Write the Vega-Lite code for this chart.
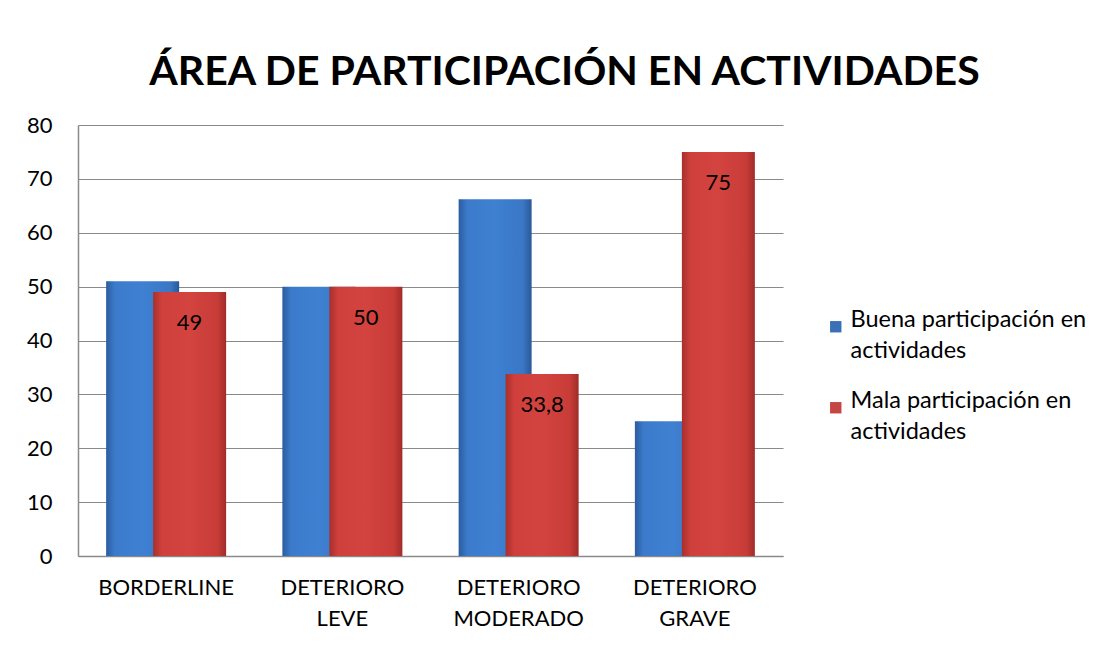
{
  "$schema": "https://vega.github.io/schema/vega-lite/v6.json",
  "width": 705,
  "height": 431,
  "autosize": "none",
  "padding": {"left": 78, "top": 125, "right": 325, "bottom": 92},
  "background": "white",
  "title": {
    "text": "ÁREA DE PARTICIPACIÓN EN ACTIVIDADES",
    "font": "Lato",
    "fontSize": 41,
    "fontWeight": "bold",
    "color": "#000000",
    "anchor": "middle",
    "dx": 134,
    "baseline": "alphabetic",
    "offset": -12
  },
  "config": {
    "locale": {"number": {"decimal": ",", "thousands": ".", "grouping": [3], "currency": ["", " €"]}},
    "font": "Lato",
    "view": {"stroke": null},
    "style": {"guide-label": {"lineHeight": 31}}
  },
  "data": {
    "values": [
      {"categoria": "BORDERLINE", "serie": "Buena participación en actividades", "valor": 51},
      {"categoria": "BORDERLINE", "serie": "Mala participación en actividades", "valor": 49},
      {"categoria": "DETERIORO LEVE", "serie": "Buena participación en actividades", "valor": 50},
      {"categoria": "DETERIORO LEVE", "serie": "Mala participación en actividades", "valor": 50},
      {"categoria": "DETERIORO MODERADO", "serie": "Buena participación en actividades", "valor": 66.2},
      {"categoria": "DETERIORO MODERADO", "serie": "Mala participación en actividades", "valor": 33.8},
      {"categoria": "DETERIORO GRAVE", "serie": "Buena participación en actividades", "valor": 25},
      {"categoria": "DETERIORO GRAVE", "serie": "Mala participación en actividades", "valor": 75}
    ]
  },
  "encoding": {
    "x": {
      "field": "categoria",
      "type": "nominal",
      "sort": ["BORDERLINE", "DETERIORO LEVE", "DETERIORO MODERADO", "DETERIORO GRAVE"],
      "scale": {"paddingInner": 0, "paddingOuter": 0},
      "axis": {
        "title": null,
        "labelAngle": 0,
        "labelFontSize": 22,
        "labelColor": "#000000",
        "labelPadding": 21,
        "labelBaseline": "top",
        "labelExpr": "split(datum.label, ' ')",
        "ticks": false,
        "domainColor": "#8a8a8a",
        "domainWidth": 1.5
      }
    },
    "xOffset": {
      "field": "serie",
      "type": "nominal",
      "scale": {"paddingInner": 0, "paddingOuter": 0.875}
    },
    "y": {
      "field": "valor",
      "type": "quantitative",
      "scale": {"domain": [0, 80]},
      "axis": {
        "title": null,
        "values": [0, 10, 20, 30, 40, 50, 60, 70, 80],
        "labelFontSize": 22,
        "labelColor": "#000000",
        "labelPadding": 26,
        "ticks": false,
        "domainColor": "#8a8a8a",
        "domainWidth": 1.5,
        "gridColor": "#8a8a8a",
        "gridWidth": 1.2
      }
    }
  },
  "layer": [
    {
      "mark": {"type": "bar", "width": 73, "opacity": 0},
      "encoding": {
        "color": {
          "field": "serie",
          "type": "nominal",
          "scale": {"range": ["#3A70B8", "#C44644"]},
          "legend": {
            "title": null,
            "orient": "none",
            "legendX": 746,
            "legendY": 190,
            "symbolType": "square",
            "symbolSize": 130,
            "symbolOpacity": 1,
            "symbolStrokeWidth": 0,
            "labelFontSize": 23.5,
            "labelColor": "#000000",
            "labelOffset": 3,
            "labelBaseline": "alphabetic",
            "rowPadding": 25,
            "labelLimit": 300,
            "labelExpr": "[replace(datum.label, ' actividades', ''), 'actividades']"
          }
        }
      }
    },
    {
      "transform": [{"filter": "datum.serie == 'Buena participación en actividades'"}],
      "mark": {
        "type": "bar",
        "width": 73,
        "fill": {"gradient": "linear", "x1": 0, "y1": 0, "x2": 1, "y2": 0, "stops": [
          {"offset": 0, "color": "#2B5C9F"},
          {"offset": 0.12, "color": "#3C7BCB"},
          {"offset": 0.5, "color": "#3F80D2"},
          {"offset": 0.88, "color": "#3A77C5"},
          {"offset": 1, "color": "#2A5898"}
        ]}
      }
    },
    {
      "transform": [{"filter": "datum.serie == 'Mala participación en actividades'"}],
      "mark": {
        "type": "bar",
        "width": 73,
        "fill": {"gradient": "linear", "x1": 0, "y1": 0, "x2": 1, "y2": 0, "stops": [
          {"offset": 0, "color": "#A82F2C"},
          {"offset": 0.12, "color": "#CF403C"},
          {"offset": 0.5, "color": "#D3433F"},
          {"offset": 0.88, "color": "#C83C38"},
          {"offset": 1, "color": "#A02C2A"}
        ]}
      }
    },
    {
      "transform": [{"filter": "datum.serie == 'Mala participación en actividades'"}],
      "mark": {"type": "text", "fontSize": 22, "color": "#000000", "baseline": "middle", "dy": 31},
      "encoding": {
        "text": {"field": "valor", "type": "quantitative", "format": "~g"}
      }
    }
  ]
}
